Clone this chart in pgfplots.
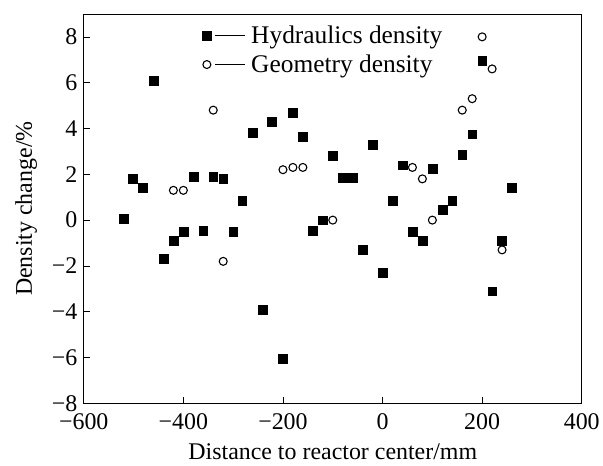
\documentclass[border=0pt]{standalone}
\usepackage{pgfplots}
\pgfplotsset{compat=1.18}
\usepackage{fontspec}
\setmainfont{Liberation Serif}
\begin{document}
\begin{tikzpicture}
\begin{axis}[
  width=500pt, height=391pt, scale only axis,
  xmin=-600, xmax=400, ymin=-8, ymax=9,
  xtick={-600,-400,-200,0,200,400},
  xticklabels={−600,−400,−200,0,200,400},
  ytick={-8,-6,-4,-2,0,2,4,6,8},
  yticklabels={−8,−6,−4,−2,0,2,4,6,8},
  tick align=inside, xtick pos=bottom, ytick pos=left,
  major tick length=6pt,
  tick style={black, line width=0.6pt},
  axis line style={line width=0.8pt},
  ticklabel style={font=\fontsize{24}{26}\selectfont},
  xticklabel style={yshift=-7pt},
  yticklabel style={xshift=-3pt},
  label style={font=\fontsize{24}{26}\selectfont},
  xlabel={Distance to reactor center/mm},
  ylabel={Density change/\%},
  xlabel style={yshift=-7pt},
  ylabel style={yshift=8pt},
  legend style={at={(0.232,0.98)}, anchor=north west, draw=none, fill=none,
    font=\fontsize{25.5}{27}\selectfont, row sep=6pt,
    cells={anchor=west}},
  legend image code/.code={
    \draw[only marks,#1] plot coordinates {(0pt,0pt)};
    \draw[black, line width=0.8pt] (8pt,0pt) -- (38pt,0pt);
    \path (42pt,0pt);
  },
]
\addplot[only marks, mark=square*, mark size=4.4pt, black] coordinates {
(-520,0.05) (-502,1.8) (-482,1.4) (-460,6.1) (-440,-1.7) (-420,-0.9)
(-400,-0.5) (-380,1.9) (-360,-0.45) (-340,1.9) (-320,1.8) (-300,-0.5)
(-282,0.85) (-260,3.8) (-240,-3.9) (-222,4.3) (-200,-6.05) (-180,4.7)
(-160,3.65) (-140,-0.45) (-120,0.0) (-100,2.8) (-80,1.85) (-60,1.85)
(-40,-1.3) (-20,3.3) (0,-2.3) (20,0.85) (40,2.4) (60,-0.5) (80,-0.9)
(100,2.25) (120,0.45) (140,0.85) (160,2.85) (180,3.75) (200,6.95)
(220,-3.1) (240,-0.9) (260,1.4)
};
\addlegendentry{Hydraulics density}
\addplot[only marks, mark=o, mark size=4pt, black, line width=1.1pt] coordinates {
(-420,1.3) (-400,1.3) (-340,4.8) (-320,-1.8) (-200,2.2) (-180,2.3)
(-160,2.3) (-100,0.0) (60,2.3) (80,1.8) (100,0.0) (160,4.8) (180,5.3)
(200,8.0) (220,6.6) (240,-1.3)
};
\addlegendentry{Geometry density}
\end{axis}
\path ([yshift=14pt]current axis.north);
\path ([xshift=-12pt]current bounding box.west);
\path ([yshift=-2pt]current bounding box.south);
\end{tikzpicture}
\end{document}
